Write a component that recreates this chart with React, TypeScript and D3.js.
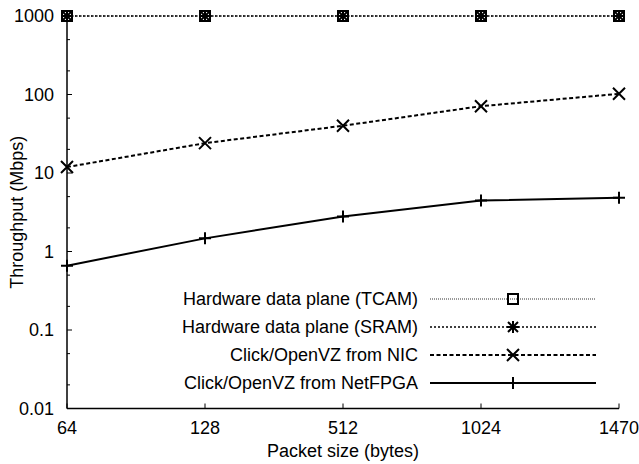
import React, { useEffect } from "react";
import * as d3 from "d3";

const width = 639;
const height = 464;
const margin = { left: 67, right: 20, top: 16, bottom: 55.5 };

const packetSizes = ["64", "128", "512", "1024", "1470"];
const tcam = [1000, 1000, 1000, 1000, 1000];
const sram = [1000, 1000, 1000, 1000, 1000];
const nic = [11.9, 24, 40, 71, 102];
const netfpga = [0.66, 1.47, 2.8, 4.45, 4.85];
const yTicks = [0.01, 0.1, 1, 10, 100, 1000];
const yTickLabels = ["0.01", "0.1", "1", "10", "100", "1000"];

const seriesNames = [
  "Hardware data plane (TCAM)",
  "Hardware data plane (SRAM)",
  "Click/OpenVZ from NIC",
  "Click/OpenVZ from NetFPGA",
];

const font = "'Liberation Sans', Arial, Helvetica, sans-serif";
const fs = 18;

type Marker = "square" | "star" | "cross" | "plus";

const series = [
  { name: seriesNames[0], values: tcam, marker: "square" as Marker, dash: "1,1", sw: 1.2, color: "#333" },
  { name: seriesNames[1], values: sram, marker: "star" as Marker, dash: "2,2", sw: 1.5, color: "#000" },
  { name: seriesNames[2], values: nic, marker: "cross" as Marker, dash: "4,2.5", sw: 2, color: "#000" },
  { name: seriesNames[3], values: netfpga, marker: "plus" as Marker, dash: "", sw: 2, color: "#000" },
];

function MarkerShape({ type, x, y }: { type: Marker; x: number; y: number }) {
  const s = 5;
  if (type === "square")
    return <rect x={x - s} y={y - s} width={s * 2} height={s * 2} fill="none" stroke="#000" strokeWidth={2} />;
  if (type === "cross")
    return (
      <path d={`M${x - 6},${y - 6}L${x + 6},${y + 6}M${x - 6},${y + 6}L${x + 6},${y - 6}`} stroke="#000" strokeWidth={2} />
    );
  if (type === "plus")
    return <path d={`M${x - 6},${y}L${x + 6},${y}M${x},${y - 6}L${x},${y + 6}`} stroke="#000" strokeWidth={2} />;
  return (
    <path
      d={`M${x - 6},${y}L${x + 6},${y}M${x},${y - 6}L${x},${y + 6}M${x - 5},${y - 5}L${x + 5},${y + 5}M${x - 5},${y + 5}L${x + 5},${y - 5}`}
      stroke="#000"
      strokeWidth={2}
    />
  );
}

export default function App() {
  useEffect(() => {
    document.body.style.margin = "0";
  }, []);

  const x = d3.scalePoint<string>().domain(packetSizes).range([margin.left, width - margin.right]);
  const y = d3.scaleLog().domain([0.01, 1000]).range([height - margin.bottom, margin.top]);
  const x0 = margin.left;
  const y0 = height - margin.bottom;

  const minorTicks: number[] = [];
  yTicks.slice(0, -1).forEach((t) => {
    minorTicks.push(t * 2, t * 5);
  });

  const line = d3
    .line<number>()
    .x((_, i) => x(packetSizes[i]) as number)
    .y((d) => y(d));

  const legendTextX = 418;
  const legendLine = [430, 596];
  const legendY = [299, 327, 355, 383];

  return (
    <svg width={width} height={height} style={{ display: "block", background: "#fff" }} fontFamily={font}>
      {/* axes */}
      <line x1={x0} x2={x0} y1={margin.top} y2={y0} stroke="#000" strokeWidth={1.5} />
      <line x1={x0} x2={width - margin.right} y1={y0} y2={y0} stroke="#000" strokeWidth={1.5} />
      {yTicks.map((t, i) => (
        <g key={t}>
          <line x1={x0} x2={x0 + 5} y1={y(t)} y2={y(t)} stroke="#000" strokeWidth={1} />
          <text x={x0 - 13} y={y(t)} dy="0.35em" textAnchor="end" fontSize={fs}>
            {yTickLabels[i]}
          </text>
        </g>
      ))}
      {minorTicks.map((t) => (
        <line key={t} x1={x0} x2={x0 + 3} y1={y(t)} y2={y(t)} stroke="#000" strokeWidth={1} />
      ))}
      {packetSizes.map((p) => (
        <g key={p}>
          <line x1={x(p)} x2={x(p)} y1={y0} y2={y0 - 5} stroke="#000" strokeWidth={1} />
          <text x={x(p)} y={y0 + 25.5} textAnchor="middle" fontSize={fs}>
            {p}
          </text>
        </g>
      ))}
      <text x={(x0 + width - margin.right) / 2} y={y0 + 48.5} textAnchor="middle" fontSize={fs}>
        Packet size (bytes)
      </text>
      <text transform={`translate(23,${(margin.top + y0) / 2}) rotate(-90)`} textAnchor="middle" fontSize={fs}>
        Throughput (Mbps)
      </text>

      {/* series */}
      {series.map((s) => (
        <g key={s.name}>
          <path d={line(s.values) ?? ""} fill="none" stroke={s.color} strokeWidth={s.sw} strokeDasharray={s.dash} />
          {s.values.map((v, i) => (
            <MarkerShape key={i} type={s.marker} x={x(packetSizes[i]) as number} y={y(v)} />
          ))}
        </g>
      ))}

      {/* legend */}
      {series.map((s, i) => (
        <g key={"leg" + s.name}>
          <text x={legendTextX} y={legendY[i]} dy="0.35em" textAnchor="end" fontSize={fs}>
            {s.name}
          </text>
          <line
            x1={legendLine[0]}
            x2={legendLine[1]}
            y1={legendY[i]}
            y2={legendY[i]}
            stroke={s.color}
            strokeWidth={s.sw}
            strokeDasharray={s.dash}
          />
          <MarkerShape type={s.marker} x={(legendLine[0] + legendLine[1]) / 2} y={legendY[i]} />
        </g>
      ))}
    </svg>
  );
}
